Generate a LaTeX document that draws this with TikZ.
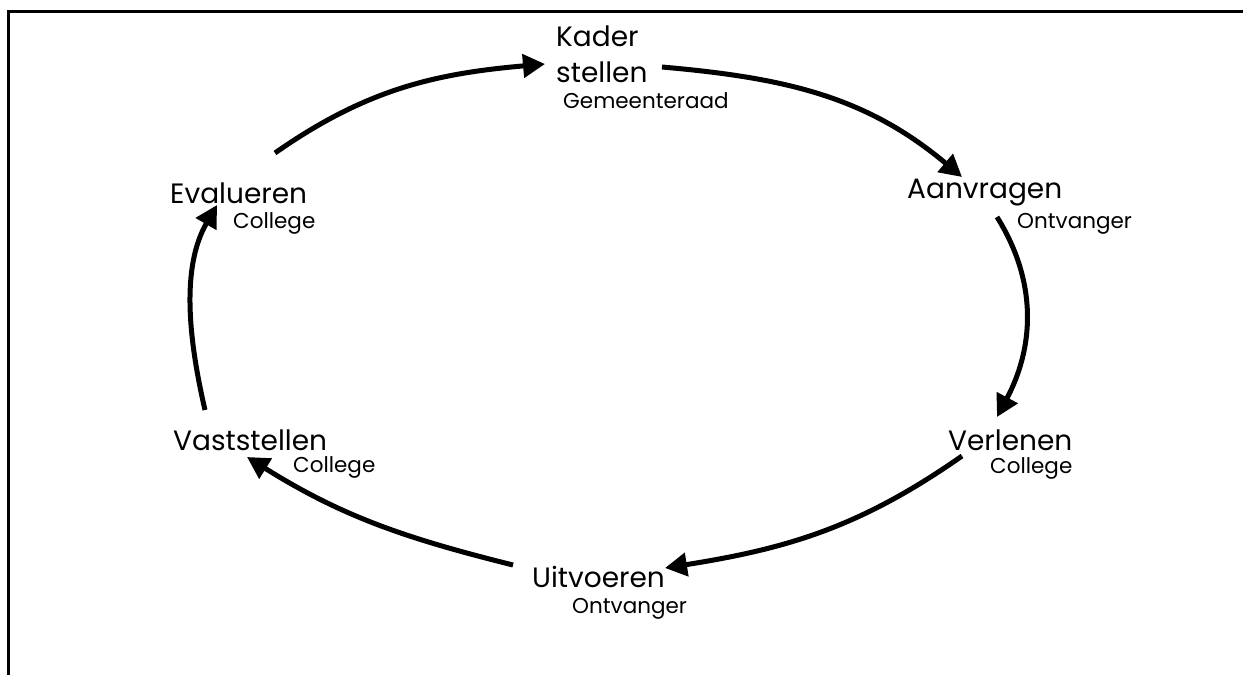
\documentclass[tikz,border=0pt]{standalone}
\usepackage{fontspec}
\setmainfont{Poppins}
\usetikzlibrary{arrows.meta}
\begin{document}
\begin{tikzpicture}[x=1pt,y=-1pt,
  mainlbl/.style={inner sep=0pt,anchor=west,font=\fontsize{28}{32}\selectfont},
  sublbl/.style={inner sep=0pt,anchor=west,font=\fontsize{21.5}{24}\selectfont},
  cyc/.style={line width=5pt,-{Triangle[length=22pt,width=23pt]}}]
\useasboundingbox (0,0) rectangle (1243,675);
\draw[line width=3pt] (1243,11) -- (8,11) -- (8,675);
% labels
\node[mainlbl] (kader) at (556,36) {Kader};
\node[mainlbl] (stellen) at (556,72) {stellen};
\node[sublbl] (gem) at (563,101) {Gemeenteraad};
\node[mainlbl] (eval) at (170,193) {Evalueren};
\node[sublbl] (col1) at (233,223) {College};
\node[mainlbl] (aanv) at (907,193) {Aanvragen};
\node[sublbl] (ont1) at (1017,224) {Ontvanger};
\node[mainlbl] (vast) at (173,440) {Vaststellen};
\node[sublbl] (col2) at (293,467) {College};
\node[mainlbl] (verl) at (948,440) {Verlenen};
\node[sublbl] (col3) at (990,468) {College};
\node[mainlbl] (uitv) at (532,577) {Uitvoeren};
\node[sublbl] (ont2) at (572,609) {Ontvanger};
% connector endpoints
\coordinate (a1) at (275,153); \coordinate (b1) at (545,64);
\coordinate (a2) at (662,67);  \coordinate (b2) at (962,177);
\coordinate (a3) at (997,217); \coordinate (b3) at (997,417);
\coordinate (a4) at (962,456); \coordinate (b4) at (665,568);
\coordinate (a5) at (513,565); \coordinate (b5) at (247,457);
\coordinate (a6) at (205,410); \coordinate (b6) at (217,205);
\draw[cyc] (a1) to[out=35,in=185] (b1);
\draw[cyc] (a2) to[out=-5,in=140] (b2);
\draw[cyc] (a3) to[out=-58,in=62] (b3);
\draw[cyc] (a4) to[out=215,in=9] (b4);
\draw[cyc] (a5) to[out=166,in=-32] (b5);
\draw[cyc] (a6) to[out=103,in=240,looseness=0.9] (b6);
\end{tikzpicture}
\end{document}
